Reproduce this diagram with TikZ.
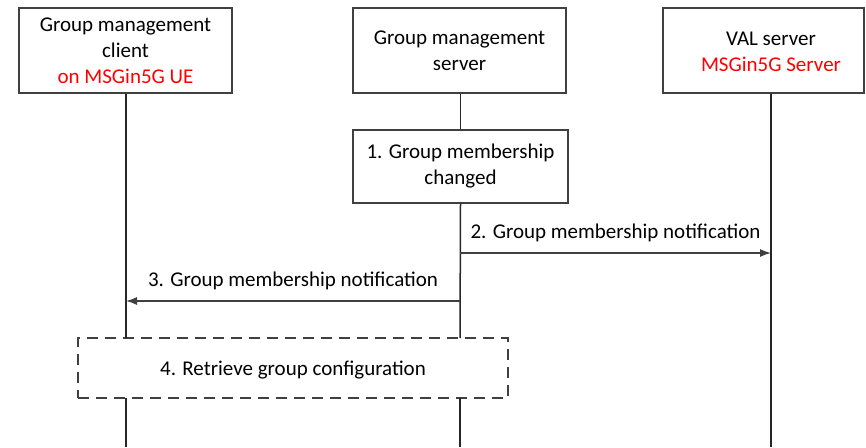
\documentclass[tikz,border=0pt]{standalone}
\usepackage{fontspec}
\setmainfont{Carlito}
\usetikzlibrary{arrows.meta}
\definecolor{lineg}{HTML}{404040}
\tikzset{
  every node/.style={font=\fontsize{21}{26}\selectfont},
  hdr/.style={draw=lineg, line width=1.3pt, minimum width=213pt, minimum height=85pt, align=center, inner sep=0pt},
  stepbox/.style={draw=lineg, line width=1.3pt, minimum width=215pt, minimum height=73pt, align=center, inner sep=0pt},
  dashbox/.style={draw=lineg, line width=1.3pt, dash pattern=on 11pt off 7pt, minimum width=430pt, minimum height=60pt, inner sep=0pt},
  life/.style={draw=black!85, line width=1.5pt},
  msg/.style={draw=lineg, line width=1.3pt, -{Latex[length=11pt,width=8pt]}},
  lbl/.style={inner sep=0pt, above=10pt},
  redtxt/.style={text=red}
}
\begin{document}
\begin{tikzpicture}[x=1pt,y=-1pt]
\useasboundingbox (0,0) rectangle (866,447);
% headers
\node[hdr] (h1) at (125.5,50.5) {Group management\\client\\\textcolor{red}{on MSGin5G UE}};
\node[hdr] (h2) at (459.5,50.5) {Group management\\server};
\node[hdr, minimum width=201pt] (h3) at (763.5,50.5) {};
\node[align=center, inner sep=0pt] (h3t) at (771,51.5) {VAL server\\\textcolor{red}{MSGin5G Server}};
% step boxes
\node[stepbox] (s1) at (460.5,166.5) {1. Group membership\\changed};
\node[dashbox] (s4) at (293,368) {};
\node[inner sep=0pt] (s4t) at (293,370) {4. Retrieve group configuration};
% lifeline end coordinates
\coordinate (e1) at (126,447);
\coordinate (e2) at (460,447);
\coordinate (e3) at (771,447);
\coordinate (d1t) at (126,338);
\coordinate (d1b) at (126,398);
\coordinate (d2t) at (460,338);
\coordinate (d2b) at (460,398);
\coordinate (m2a) at (460,253);
\coordinate (m2b) at (771,253);
\coordinate (m3a) at (460,301);
\coordinate (m3b) at (126,301);
% lifelines
\draw[life] (h1.south -| d1t) -- (d1t);
\draw[life] (d1b) -- (e1);
\draw[life] (h2.south -| s1.north) -- (s1.north);
\draw[life] (s1.south) -- (d2t);
\draw[life] (d2b) -- (e2);
\draw[life] (h3.south -| e3) -- (e3);
% messages
\draw[msg] (m2a) -- node[lbl] (l2) {2. Group membership notification} (m2b);
\draw[msg] (m3a) -- node[lbl] (l3) {3. Group membership notification} (m3b);
\end{tikzpicture}
\end{document}
